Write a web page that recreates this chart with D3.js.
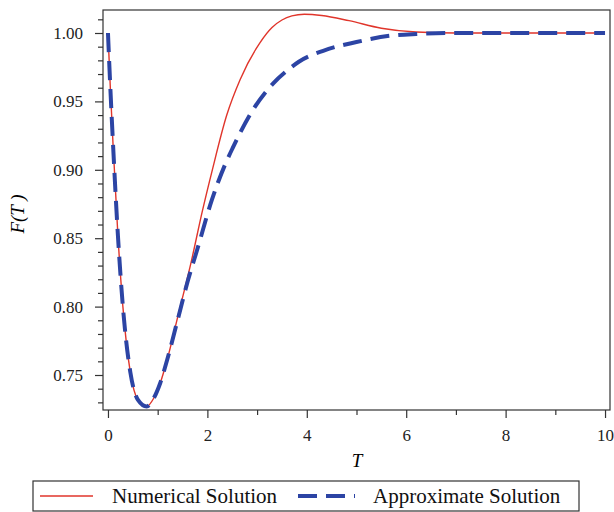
<!DOCTYPE html>
<html>
<head>
<meta charset="utf-8">
<script src="https://cdn.jsdelivr.net/npm/d3@7"></script>
<style>
  body { margin: 0; background: #fff; }
  svg { display: block; font-family: "Liberation Serif", "Times New Roman", serif; }
</style>
</head>
<body>
<svg id="chart" width="614" height="512" viewBox="0 0 614 512"></svg>
<script>
// values
const numT = [0, 0.05, 0.1, 0.2, 0.3, 0.45, 0.6, 0.78, 0.92, 1.05, 1.19, 1.4, 1.67, 1.9, 2.1, 2.39, 2.66, 3.06, 3.3, 3.5, 3.7, 3.95, 4.3, 4.85, 5.5, 6.2, 7, 8, 9, 10];
const numF = [1, 0.958, 0.92, 0.852, 0.80, 0.752, 0.732, 0.727, 0.733, 0.744, 0.761, 0.792, 0.832, 0.870, 0.900, 0.940, 0.966, 0.993, 1.004, 1.0095, 1.0125, 1.0137, 1.0128, 1.009, 1.0035, 1.0007, 1.0, 1.0, 1.0, 1.0];

const apxT = [0, 0.05, 0.1, 0.2, 0.3, 0.45, 0.6, 0.78, 0.92, 1.05, 1.19, 1.4, 1.6, 1.79, 2.09, 2.37, 2.51, 2.92, 3.32, 3.62, 3.84, 4.33, 5.0, 5.67, 6.2, 7, 8, 9, 10];
const apxF = [1, 0.958, 0.92, 0.852, 0.80, 0.752, 0.732, 0.727, 0.733, 0.744, 0.761, 0.79, 0.818, 0.841, 0.878, 0.905, 0.916, 0.944, 0.963, 0.973, 0.979, 0.987, 0.9934, 0.998, 0.9993, 1.0, 1.0, 1.0, 1.0];

const xMajor = [0, 2, 4, 6, 8, 10];
const xMinor = [1, 3, 5, 7, 9];
const yMajor = [0.75, 0.80, 0.85, 0.90, 0.95, 1.00];
const yMinor = [0.73, 0.74, 0.76, 0.77, 0.78, 0.79, 0.81, 0.82, 0.83, 0.84, 0.86, 0.87, 0.88, 0.89,
                0.91, 0.92, 0.93, 0.94, 0.96, 0.97, 0.98, 0.99, 1.01];

const seriesNames = ["Numerical Solution", "Approximate Solution"];
const red = "#e0352b";
const blue = "#2c44a4";
const serif = "'Liberation Serif', 'Times New Roman', serif";

const svg = d3.select("#chart");
const plotL = 103, plotR = 610, plotT = 10, plotB = 410;

const x = d3.scaleLinear().domain([-0.1, 10.1]).range([plotL, plotR]);
const y = d3.scaleLinear().domain([0.72442, 1.01681]).range([plotB, plotT]);

// frame
svg.append("rect")
    .attr("x", plotL).attr("y", plotT)
    .attr("width", plotR - plotL).attr("height", plotB - plotT)
    .attr("fill", "none").attr("stroke", "#333").attr("stroke-width", 1.2);

// axes
function styleAxis(g) {
    g.attr("font-family", null).attr("font-size", null);
    g.select(".domain").remove();
    g.selectAll("line").attr("stroke", "#333").attr("stroke-width", 1.2);
    g.selectAll("text")
        .style("font-family", serif)
        .style("font-size", "17px")
        .style("fill", "#222");
}

svg.append("g")
    .attr("transform", `translate(0,${plotB})`)
    .call(d3.axisBottom(x).tickValues(xMajor).tickSize(8).tickPadding(11).tickFormat(d3.format("d")))
    .call(styleAxis);
svg.append("g")
    .attr("transform", `translate(0,${plotB})`)
    .call(d3.axisBottom(x).tickValues(xMinor).tickSize(5).tickFormat(""))
    .call(styleAxis);

svg.append("g")
    .attr("transform", `translate(${plotL},0)`)
    .call(d3.axisLeft(y).tickValues(yMajor).tickSize(8).tickPadding(12).tickFormat(d3.format(".2f")))
    .call(styleAxis);
svg.append("g")
    .attr("transform", `translate(${plotL},0)`)
    .call(d3.axisLeft(y).tickValues(yMinor).tickSize(5).tickFormat(""))
    .call(styleAxis);

// axis labels
svg.append("text")
    .attr("x", 357).attr("y", 467)
    .attr("text-anchor", "middle")
    .style("font-family", serif)
    .attr("font-size", 19).attr("font-style", "italic")
    .text("T");

svg.append("text")
    .attr("transform", "translate(24,214) rotate(-90)")
    .attr("text-anchor", "middle")
    .style("font-family", serif)
    .attr("font-size", 19).attr("font-style", "italic")
    .text("F(T )");

// curves
const line = d3.line()
    .x(d => x(d[0]))
    .y(d => y(d[1]))
    .curve(d3.curveMonotoneX);

svg.append("path")
    .datum(numT.map((t, i) => [t, numF[i]]))
    .attr("d", line)
    .attr("fill", "none")
    .attr("stroke", red)
    .attr("stroke-width", 1.4);

svg.append("path")
    .datum(apxT.map((t, i) => [t, apxF[i]]))
    .attr("d", line)
    .attr("fill", "none")
    .attr("stroke", blue)
    .attr("stroke-width", 4)
    .attr("stroke-dasharray", "19,9");

// legend
const legend = svg.append("g");
legend.append("rect")
    .attr("x", 33).attr("y", 481)
    .attr("width", 546).attr("height", 30)
    .attr("fill", "#fff").attr("stroke", "#333").attr("stroke-width", 1.2);

const legendItems = [
    {name: seriesNames[0], x0: 40, x1: 93, tx: 112, color: red, w: 1.4, dash: null},
    {name: seriesNames[1], x0: 298, x1: 355, tx: 373, color: blue, w: 4, dash: "19,9"}
];
legendItems.forEach(it => {
    legend.append("line")
        .attr("x1", it.x0).attr("x2", it.x1)
        .attr("y1", 496).attr("y2", 496)
        .attr("stroke", it.color).attr("stroke-width", it.w)
        .attr("stroke-dasharray", it.dash);
    legend.append("text")
        .attr("x", it.tx).attr("y", 503)
        .style("font-family", serif)
        .attr("font-size", 21).attr("fill", "#111")
        .text(it.name);
});
</script>
</body>
</html>
